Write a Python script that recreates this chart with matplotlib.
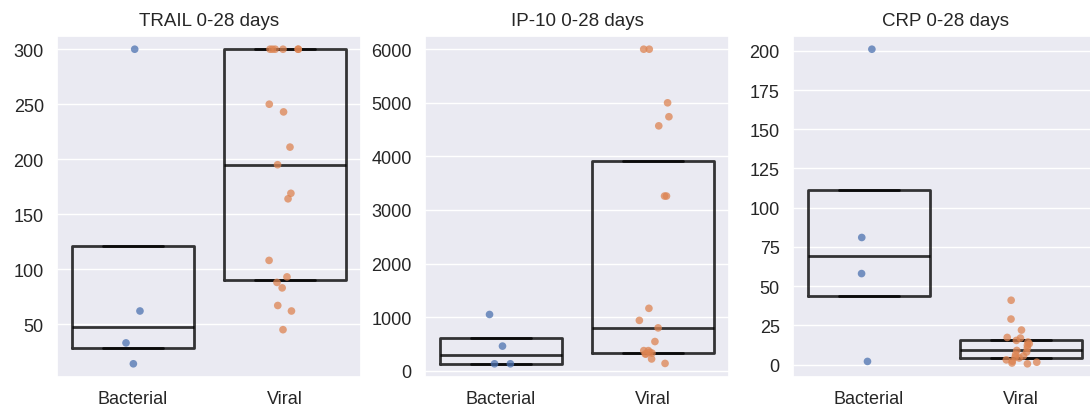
import numpy as np
import pandas as pd
import matplotlib
matplotlib.use("Agg")
import matplotlib.pyplot as plt
import seaborn as sns

groups = ["Bacterial", "Viral"]
titles = ["TRAIL 0-28 days", "IP-10 0-28 days", "CRP 0-28 days"]

trail_bacterial = [300, 62, 33, 14]
trail_viral = [300, 300, 300, 300, 300, 300, 250, 243, 211, 195, 169, 164,
               108, 93, 88, 83, 67, 62, 45]

ip10_bacterial = [1050, 460, 130, 130]
ip10_viral = [6000, 6000, 5000, 4740, 4570, 3260, 3260, 1165, 940, 800, 545,
              376, 376, 344, 330, 313, 313, 220, 137]

crp_bacterial = [201, 81, 58, 2]
crp_viral = [41, 29, 22, 17.3, 16.9, 15.4, 14.4, 13.3, 12.3, 10.5, 9, 8,
             6.5, 5.5, 4.8, 4.2, 3, 2.2, 1.5, 1, 0.5]

panels = [(trail_bacterial, trail_viral),
          (ip10_bacterial, ip10_viral),
          (crp_bacterial, crp_viral)]

sns.set_theme(style="darkgrid")
plt.rcParams["font.family"] = ["Liberation Sans", "DejaVu Sans"]

W, H = 1090, 414
fig = plt.figure(figsize=(W / 100, H / 100), dpi=100)
lefts = [57, 425, 793]
aw = 304
top, bottom = 37, 378
palette = sns.color_palette("deep")[:2]

np.random.seed(3)
for i, (bact, vir) in enumerate(panels):
    ax = fig.add_axes([lefts[i] / W, 1 - bottom / H, aw / W, (bottom - top) / H])
    df = pd.DataFrame({
        "group": [groups[0]] * len(bact) + [groups[1]] * len(vir),
        "value": list(bact) + list(vir),
    })
    sns.stripplot(data=df, x="group", y="value", hue="group", palette=palette,
                  alpha=0.75, size=5.5, jitter=0.11, legend=False, ax=ax,
                  order=groups, hue_order=groups)
    lp = dict(color="black", linewidth=2.0, alpha=0.78)
    ax.boxplot([bact, vir], positions=[0, 1], widths=0.8, whis=0,
               showfliers=False, manage_ticks=False, patch_artist=False,
               boxprops=lp, whiskerprops=lp, capprops=lp, medianprops=lp)
    allv = np.array(list(bact) + list(vir), dtype=float)
    lo, hi = allv.min(), allv.max()
    m = 0.042 * (hi - lo)
    ax.set_ylim(lo - m, hi + m)
    ax.set_xlim(-0.5, 1.5)
    ax.set_xlabel("")
    ax.set_ylabel("")
    ax.set_title(titles[i], fontsize=13.5, color="0.15", pad=8)
    ax.tick_params(labelsize=13, colors="0.15")

fig.savefig("out.png", dpi=100)
